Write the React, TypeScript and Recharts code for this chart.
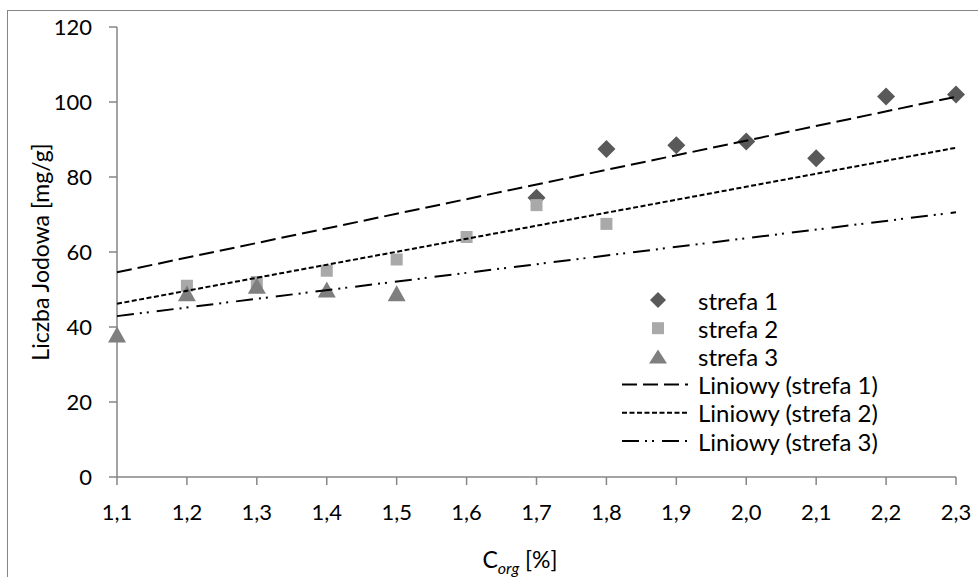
import React from "react";
import { ScatterChart, Scatter, XAxis, YAxis, Legend } from "recharts";

// Tick values
const xTicks = [1.1, 1.2, 1.3, 1.4, 1.5, 1.6, 1.7, 1.8, 1.9, 2.0, 2.1, 2.2, 2.3];
const yTicks = [0, 20, 40, 60, 80, 100, 120];

// Measured points per zone
const strefa1X = [1.7, 1.8, 1.9, 2.0, 2.1, 2.2, 2.3];
const strefa1Y = [74.5, 87.5, 88.5, 89.5, 85, 101.5, 102];
const strefa2X = [1.2, 1.3, 1.4, 1.5, 1.6, 1.7, 1.8];
const strefa2Y = [51, 52, 55, 58, 64, 72.5, 67.5];
const strefa3X = [1.1, 1.2, 1.3, 1.4, 1.5];
const strefa3Y = [38, 49, 51, 50, 49];

// Linear trend lines (end points)
const trendX = [1.1, 2.3];
const trend1Y = [54.6, 101.4];
const trend2Y = [46.2, 87.8];
const trend3Y = [42.9, 70.6];

const seriesNames = ["strefa 1", "strefa 2", "strefa 3"];
const trendNames = ["Liniowy (strefa 1)", "Liniowy (strefa 2)", "Liniowy (strefa 3)"];

const FONT = "Lato";
const AXIS = "#868686";
const COLORS = ["#595959", "#A9A9A9", "#7F7F7F"];
const DASHES = ["15 6", "5 2.5", "17 6 2 5 2 8"];

const zip = (xs: number[], ys: number[]) => xs.map((x, i) => ({ x, y: ys[i] }));

const data1 = zip(strefa1X, strefa1Y);
const data2 = zip(strefa2X, strefa2Y);
const data3 = zip(strefa3X, strefa3Y);
const trends = [trend1Y, trend2Y, trend3Y].map((ys) => zip(trendX, ys));

const diamondPath = (cx: number, cy: number, r: number) =>
  `M${cx},${cy - r}L${cx + r},${cy}L${cx},${cy + r}L${cx - r},${cy}Z`;
const trianglePath = (cx: number, cy: number, w: number, h: number) =>
  `M${cx},${cy - h / 2}L${cx + w / 2},${cy + h / 2}L${cx - w / 2},${cy + h / 2}Z`;

const Diamond = (p: any) => <path d={diamondPath(p.cx, p.cy, 9)} fill={COLORS[0]} />;
const Square = (p: any) => <rect x={p.cx - 6} y={p.cy - 6} width={12} height={12} fill={COLORS[1]} />;
const Triangle = (p: any) => <path d={trianglePath(p.cx, p.cy, 18, 16)} fill={COLORS[2]} />;
const NoShape = () => <g />;

const YLabel = (props: any) => {
  const vb = props.viewBox || { x: 0, y: 27, height: 450 };
  const x = vb.x + 40;
  const y = vb.y + vb.height / 2;
  return (
    <text x={x} y={y} transform={`rotate(-90, ${x}, ${y})`} textAnchor="middle" dominantBaseline="central"
      fontFamily={FONT} fontSize={23} fill="#000">
      Liczba Jodowa [mg/g]
    </text>
  );
};

const XLabel = () => (
  <text x={520} y={568} textAnchor="middle" fontFamily={FONT} fontSize={23} fill="#000">
    C
    <tspan fontSize={16} fontStyle="italic" dy={6}>org</tspan>
    <tspan dy={-6}> [%]</tspan>
  </text>
);

const LegendBox = () => {
  const rowY = (i: number) => 15 + i * 28.2;
  return (
    <svg width={360} height={175} style={{ display: "block" }}>
      <path d={diamondPath(48, rowY(0), 8)} fill={COLORS[0]} />
      <rect x={42} y={rowY(1) - 6} width={12} height={12} fill={COLORS[1]} />
      <path d={trianglePath(48, rowY(2), 18, 14)} fill={COLORS[2]} />
      {trendNames.map((_, i) => (
        <line key={`l${i}`} x1={12} x2={78} y1={rowY(i + 3)} y2={rowY(i + 3)}
          stroke="#000" strokeWidth={2} strokeDasharray={DASHES[i]} />
      ))}
      {[...seriesNames, ...trendNames].map((name, i) => (
        <text key={name} x={88} y={rowY(i)} dominantBaseline="central" fontFamily={FONT} fontSize={24} fill="#000">
          {name}
        </text>
      ))}
    </svg>
  );
};

export default function App() {
  return (
    <div style={{ position: "absolute", left: 0, top: 0, width: 978, height: 577, background: "#fff", overflow: "hidden" }}>
      <div style={{ position: "absolute", left: 7, top: 10, right: -10, bottom: -10,
        borderLeft: `1.5px solid ${AXIS}`, borderTop: `1.5px solid ${AXIS}` }} />
      <ScatterChart width={978} height={577} margin={{ top: 27, right: 22, bottom: 0, left: 0 }}>
        <XAxis type="number" dataKey="x" domain={[1.1, 2.3]} ticks={xTicks} interval={0} height={100}
          tickFormatter={(v: number) => v.toFixed(1).replace(".", ",")}
          tick={{ fill: "#000", fontSize: 22, fontFamily: FONT }}
          axisLine={{ stroke: AXIS, strokeWidth: 1.5 }} tickLine={{ stroke: AXIS, strokeWidth: 1.5 }}
          tickSize={8} tickMargin={19} label={<XLabel />} />
        <YAxis type="number" dataKey="y" domain={[0, 120]} ticks={yTicks} interval={0} width={117}
          tick={{ fill: "#000", fontSize: 22, fontFamily: FONT }}
          axisLine={{ stroke: AXIS, strokeWidth: 1.5 }} tickLine={{ stroke: AXIS, strokeWidth: 1.5 }}
          tickSize={8} tickMargin={17} label={<YLabel />} />
        <Scatter name={seriesNames[0]} data={data1} shape={Diamond} isAnimationActive={false} />
        <Scatter name={seriesNames[1]} data={data2} shape={Square} isAnimationActive={false} />
        <Scatter name={seriesNames[2]} data={data3} shape={Triangle} isAnimationActive={false} />
        {trends.map((t, i) => (
          <Scatter key={trendNames[i]} name={trendNames[i]} data={t} shape={NoShape} legendType="none"
            line={{ stroke: "#000", strokeWidth: 2, strokeDasharray: DASHES[i] }} isAnimationActive={false} />
        ))}
        <Legend layout="vertical" align="center" verticalAlign="middle" content={<LegendBox />}
          wrapperStyle={{ left: 610, top: 285, width: 360, height: 175 }} />
      </ScatterChart>
    </div>
  );
}
